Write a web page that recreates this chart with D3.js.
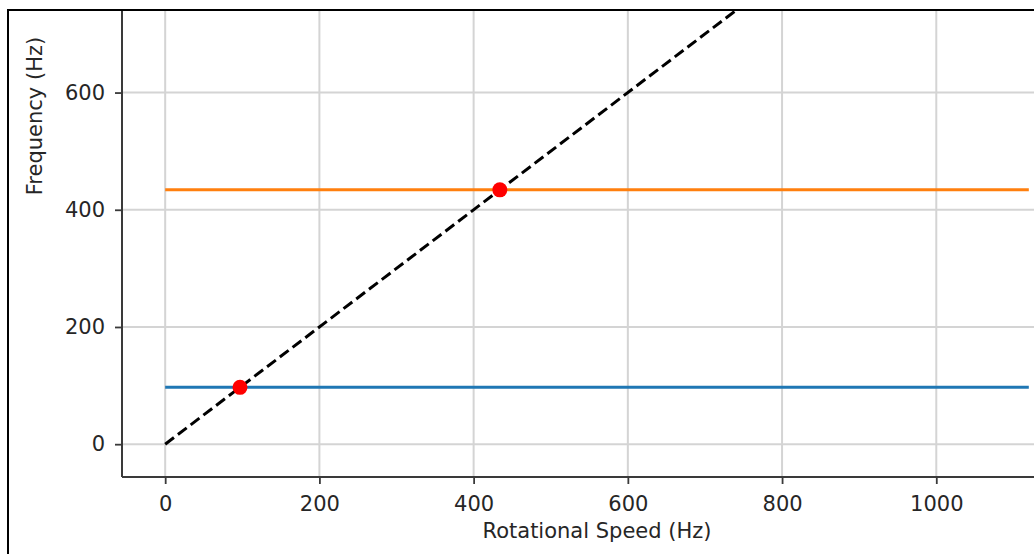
<!DOCTYPE html>
<html>
<head>
<meta charset="utf-8">
<script src="https://cdn.jsdelivr.net/npm/d3@7"></script>
<style>
  body { margin: 0; background: #fff; }
  svg { display: block; font-family: "DejaVu Sans", sans-serif; }
</style>
</head>
<body>
<div id="chart"></div>
<script>
// ---------- Data ----------
const speedRange = [0, 1120];           // rotational speed sweep (Hz)
const modeNames = ["mode 1", "mode 2"];
const modeFreqs = [97, 434];            // natural frequencies (Hz)
const crossSpeeds = [97, 434];          // where 1x line meets each mode
const xTicks = [0, 200, 400, 600, 800, 1000];
const yTicks = [0, 200, 400, 600, 800, 1000];
const xDomain = [-56, 1176];
const yDomain = [-56, 1176];

const W = 1034, H = 554;
const FS = 21;
const MODE_COLORS = ["#1f77b4", "#ff7f0e"];

const svg = d3.select("#chart").append("svg").attr("width", W).attr("height", H);

const frame = { x: 8, y: 10 };
const x = d3.scaleLinear().domain(xDomain).range([122, 1072]);
const y = d3.scaleLinear().domain(yDomain).range([477, -245]);

const defs = svg.append("defs");
defs.append("clipPath").attr("id", "plotclip")
  .append("rect")
  .attr("x", x.range()[0]).attr("y", frame.y + 1)
  .attr("width", x.range()[1] - x.range()[0])
  .attr("height", y.range()[0] - frame.y - 1);
defs.append("clipPath").attr("id", "frameclip")
  .append("rect")
  .attr("x", frame.x + 1).attr("y", frame.y + 1)
  .attr("width", W).attr("height", H);

const root = svg.append("g").attr("clip-path", "url(#frameclip)");
const plot = root.append("g").attr("clip-path", "url(#plotclip)");

// grid
plot.append("g").selectAll("line").data(xTicks).enter().append("line")
  .attr("x1", (d) => x(d)).attr("x2", (d) => x(d))
  .attr("y1", y.range()[0]).attr("y2", y.range()[1])
  .attr("stroke", "#d4d4d4").attr("stroke-width", 2);
plot.append("g").selectAll("line").data(yTicks).enter().append("line")
  .attr("x1", x.range()[0]).attr("x2", x.range()[1])
  .attr("y1", (d) => y(d)).attr("y2", (d) => y(d))
  .attr("stroke", "#d4d4d4").attr("stroke-width", 2);

// horizontal mode lines
plot.append("g").selectAll("line").data(modeFreqs).enter().append("line")
  .attr("x1", x(speedRange[0])).attr("x2", x(speedRange[1]))
  .attr("y1", (d) => y(d)).attr("y2", (d) => y(d))
  .attr("stroke", (d, i) => MODE_COLORS[i]).attr("stroke-width", 3)
  .append("title").text((d, i) => `${modeNames[i]}: ${d} Hz`);

// 1x excitation line
const line = d3.line().x((d) => x(d)).y((d) => y(d));
plot.append("path")
  .attr("d", line(speedRange))
  .attr("fill", "none").attr("stroke", "#000")
  .attr("stroke-width", 3).attr("stroke-dasharray", "11,5");

// intersections
plot.append("g").selectAll("circle").data(crossSpeeds).enter().append("circle")
  .attr("cx", (d) => x(d)).attr("cy", (d, i) => y(modeFreqs[i]))
  .attr("r", 7.5).attr("fill", "red");

// axes
const fmt = d3.format("d");
const xAxis = root.append("g")
  .attr("transform", `translate(0, ${y.range()[0]})`)
  .call(d3.axisBottom(x).tickValues(xTicks).tickFormat(fmt).tickSize(7).tickPadding(12));
const yAxis = root.append("g")
  .attr("transform", `translate(${x.range()[0]}, 0)`)
  .call(d3.axisLeft(y).tickValues(yTicks.filter((d) => y(d) > frame.y)).tickFormat(fmt).tickSize(7).tickPadding(10));

[xAxis, yAxis].forEach((g) => {
  g.selectAll("path.domain").attr("stroke", "#3a3a3a").attr("stroke-width", 2);
  g.selectAll(".tick line").attr("stroke", "#3a3a3a").attr("stroke-width", 1.8);
  g.selectAll("text").attr("fill", "#262626").attr("font-size", FS)
    .attr("font-family", "DejaVu Sans, sans-serif");
});
// x axis spine runs to the right axes edge, y spine to the top
xAxis.select("path.domain").attr("d", `M${x.range()[0]},0H${x.range()[1]}`);
yAxis.select("path.domain").attr("d", `M0,${y.range()[0]}V${y.range()[1]}`);

// labels
root.append("text")
  .attr("x", (x.range()[0] + x.range()[1]) / 2).attr("y", 538)
  .attr("text-anchor", "middle").attr("font-size", FS).attr("fill", "#262626")
  .text("Rotational Speed (Hz)");
root.append("text")
  .attr("transform", `translate(42, ${(y.range()[0] + y.range()[1]) / 2}) rotate(-90)`)
  .attr("text-anchor", "middle").attr("font-size", FS).attr("fill", "#262626")
  .text("Frequency (Hz)");

// frame (top and left edges visible)
svg.append("path")
  .attr("d", `M${frame.x},${H}V${frame.y}H${W}`)
  .attr("fill", "none").attr("stroke", "#000").attr("stroke-width", 2);
</script>
</body>
</html>
